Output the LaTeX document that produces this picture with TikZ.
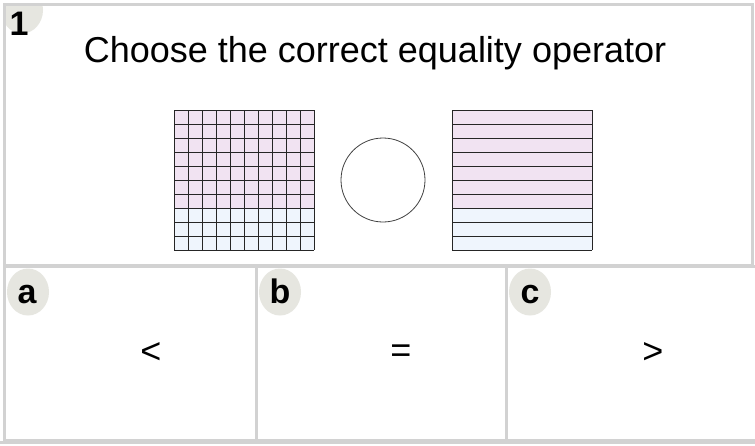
\documentclass[tikz,border=0pt]{standalone}
\usepackage{fontspec}
\setmainfont{Liberation Sans}
\usetikzlibrary{positioning, shapes.geometric}

\definecolor{framegray}{HTML}{D2D2D2}
\definecolor{badgegray}{HTML}{E6E6E0}
\definecolor{partpink}{HTML}{F1E3F2}
\definecolor{partblue}{HTML}{EFF5FD}

\begin{document}
\begin{tikzpicture}[x=1pt, y=-1pt,
panel/.style={draw=framegray, line width=3pt},
badge/.style={ellipse, fill=badgegray, minimum width=42pt, minimum height=47pt, inner sep=0pt},
badgetext/.style={font=\bfseries\fontsize{34}{38}\selectfont, inner sep=0pt, anchor=base},
choice/.style={font=\fontsize{36}{40}\selectfont, inner sep=0pt},
cellline/.style={line width=1pt, black!85}
]
\useasboundingbox (0,0) rectangle (755,445);
\fill[white] (0,0) rectangle (755,445);

% panels
\draw[panel] (4.5,4.5) rectangle (752,265);
\draw[panel] (4.5,266.5) rectangle (256.5,440);
\draw[panel] (256.5,266.5) rectangle (506.5,440);
\draw[panel] (506.5,266.5) rectangle (758,440);
\draw[draw=framegray, line width=3pt] (0,442) -- (755,442);

% question badge
\begin{scope}
\clip (6,6) rectangle (750,263);
\node[badge] (qbadge) at (22,10) {};
\end{scope}
\node[badgetext] (qnum) at (19,35) {1};

\node[anchor=base, inner sep=0pt, font=\fontsize{36}{42}\selectfont] (title) at (375,62) {Choose the correct equality operator};

% hundred grid
\fill[partblue] (174,110) rectangle (314,250);
\fill[partpink] (174,110) rectangle (314,208);
\fill[partblue] (174,208) rectangle (272,222);
\foreach \k in {0,...,10} {
  \draw[cellline] (174+14*\k,110) -- (174+14*\k,250);
  \draw[cellline] (174,110+14*\k) -- (314,110+14*\k);
}
\coordinate (grid) at (244,180);

% compare circle
\node[circle, draw=black!75, line width=0.8pt, minimum size=84pt] (cmp) at (383,180) {};

% ten bars
\fill[partblue] (452,110) rectangle (592,250);
\fill[partpink] (452,110) rectangle (592,208);
\foreach \k in {0,...,10} {
  \draw[cellline] (452,110+14*\k) -- (592,110+14*\k);
}
\draw[cellline] (452,110) -- (452,250);
\draw[cellline] (592,110) -- (592,250);
\coordinate (bars) at (522,180);

% answers
\node[badge] (abadge) at (28,292) {};
\node[badgetext] (alabel) at (27,303) {a};
\node[badge] (bbadge) at (280,292) {};
\node[badgetext] (blabel) at (280,303) {b};
\node[badge] (cbadge) at (530,292) {};
\node[badgetext] (clabel) at (530,303) {c};

\node[choice] (chosea) at (151,352.5) {<};
\node[choice] (choseb) at (401,354) {=};
\node[choice] (chosec) at (653,352.5) {>};

\end{tikzpicture}
\end{document}
